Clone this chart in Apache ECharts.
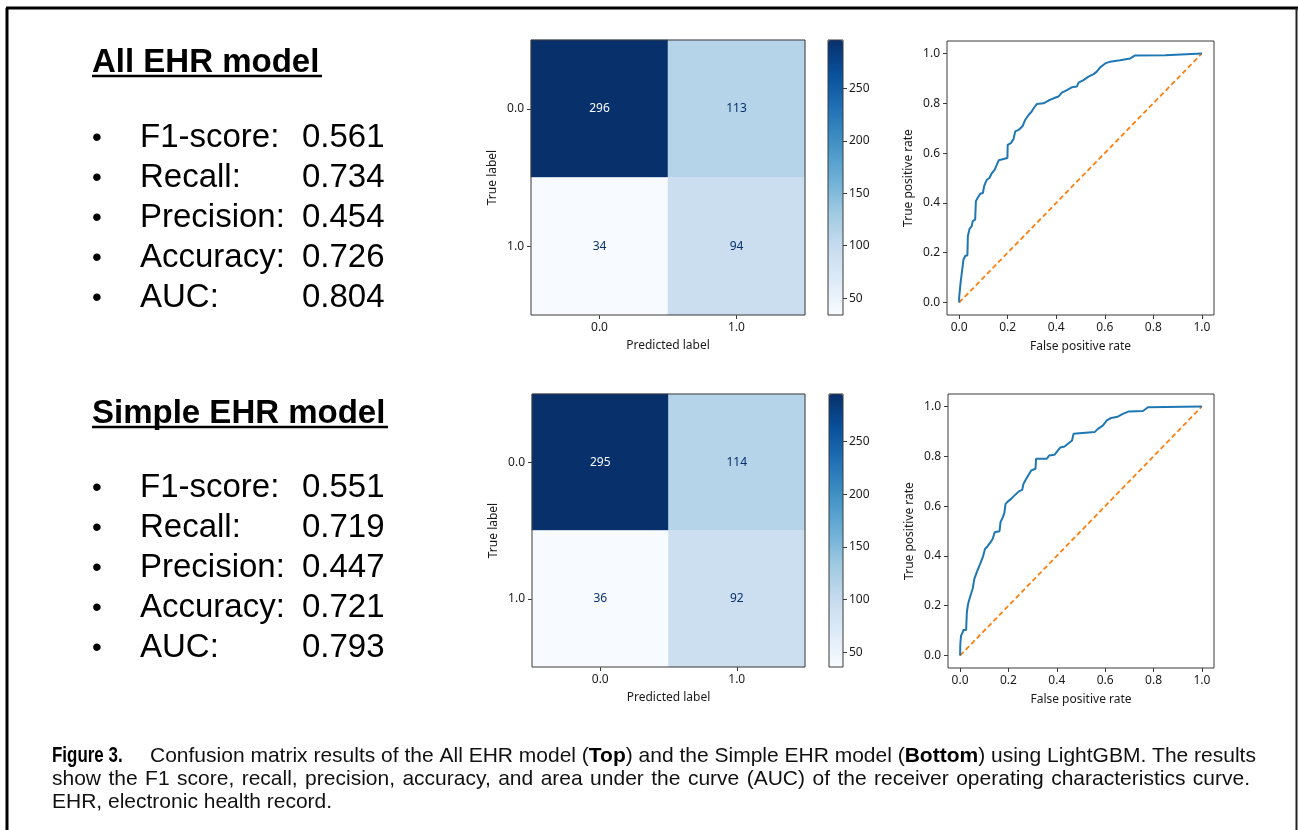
<!DOCTYPE html>
<html>
<head>
<meta charset="utf-8">
<script src="https://cdn.jsdelivr.net/npm/echarts@6/dist/echarts.min.js"></script>
<style>
  html, body { margin: 0; padding: 0; background: #fff; }
  #chart { width: 1298px; height: 830px; }
</style>
</head>
<body>
<div id="chart"></div>
<script>
// ---- data ----
const cmClasses = ['0.0', '1.0'];
const cmAll = [[296, 113], [34, 94]];
const cmSimple = [[295, 114], [36, 92]];
const colorbarTicks = [50, 100, 150, 200, 250];
const rocTicks = [0, 0.2, 0.4, 0.6, 0.8, 1.0];

const metricNames = ['F1-score:', 'Recall:', 'Precision:', 'Accuracy:', 'AUC:'];
const allScores = ['0.561', '0.734', '0.454', '0.726', '0.804'];
const simpleScores = ['0.551', '0.719', '0.447', '0.721', '0.793'];

const rocAllFpr = [0, 0, 0.006, 0.011, 0.018, 0.025, 0.034, 0.036, 0.043, 0.052, 0.056, 0.066, 0.069, 0.076, 0.087, 0.098, 0.103, 0.114, 0.125, 0.135, 0.146, 0.155, 0.163, 0.183, 0.199, 0.2, 0.213, 0.224, 0.231, 0.245, 0.262, 0.272, 0.286, 0.299, 0.309, 0.32, 0.348, 0.368, 0.389, 0.409, 0.423, 0.444, 0.464, 0.485, 0.492, 0.512, 0.533, 0.554, 0.567, 0.581, 0.602, 0.622, 0.663, 0.705, 0.725, 0.849, 0.853, 1];
const rocAllTpr = [0, 0.02, 0.08, 0.087, 0.173, 0.187, 0.19, 0.267, 0.296, 0.307, 0.327, 0.333, 0.407, 0.42, 0.437, 0.44, 0.467, 0.493, 0.5, 0.52, 0.533, 0.553, 0.571, 0.576, 0.58, 0.633, 0.64, 0.656, 0.687, 0.693, 0.709, 0.733, 0.753, 0.767, 0.783, 0.797, 0.8, 0.811, 0.82, 0.827, 0.843, 0.853, 0.864, 0.867, 0.883, 0.893, 0.907, 0.917, 0.927, 0.944, 0.96, 0.967, 0.973, 0.98, 0.992, 0.993, 1, 1];

const rocSimpleFpr = [0, 0.001, 0.004, 0.011, 0.014, 0.025, 0.028, 0.033, 0.039, 0.046, 0.052, 0.059, 0.069, 0.077, 0.083, 0.094, 0.103, 0.114, 0.126, 0.135, 0.143, 0.163, 0.167, 0.177, 0.183, 0.188, 0.197, 0.211, 0.221, 0.232, 0.243, 0.257, 0.262, 0.273, 0.284, 0.294, 0.312, 0.314, 0.359, 0.368, 0.39, 0.404, 0.414, 0.432, 0.446, 0.463, 0.469, 0.476, 0.556, 0.57, 0.59, 0.607, 0.625, 0.652, 0.673, 0.698, 0.756, 0.777, 1];
const rocSimpleTpr = [0, 0.047, 0.08, 0.094, 0.103, 0.103, 0.174, 0.207, 0.228, 0.234, 0.268, 0.308, 0.335, 0.341, 0.368, 0.395, 0.428, 0.439, 0.455, 0.469, 0.495, 0.499, 0.535, 0.556, 0.573, 0.609, 0.618, 0.629, 0.639, 0.649, 0.659, 0.665, 0.689, 0.709, 0.727, 0.743, 0.75, 0.79, 0.79, 0.803, 0.806, 0.823, 0.835, 0.839, 0.85, 0.863, 0.89, 0.897, 0.897, 0.91, 0.923, 0.944, 0.954, 0.959, 0.97, 0.98, 0.982, 0.997, 1];

const chanceLine = [0, 1];

// ---- styling ----
const blues = ['#f7fbff', '#deebf7', '#c6dbef', '#9ecae1', '#6baed6', '#4292c6', '#2171b5', '#08519c', '#08306b'];
const tickFont = 'Noto Sans';
const spine = '#3a3a3a';
const textDark = '#1a1a1a';

function cellData(m) {
  const flat = m.flat();
  const lo = Math.min(...flat), hi = Math.max(...flat);
  const thresh = (lo + hi) / 2;
  const out = [];
  m.forEach((row, r) => row.forEach((v, c) => {
    out.push({ value: [c, r, v], label: { color: v > thresh ? blues[0] : blues[8] } });
  }));
  return out;
}
function zip(xs, ys) { return xs.map((x, i) => [x, ys[i]]); }

const frames = [
  { cm: { left: 531, top: 40, width: 274, height: 275 }, cb: { left: 828, top: 40, width: 15, height: 275 }, roc: { left: 947, top: 41, width: 267, height: 274 } },
  { cm: { left: 532, top: 394, width: 273, height: 273 }, cb: { left: 829, top: 394, width: 14, height: 273 }, roc: { left: 948, top: 394, width: 266, height: 274 } }
];

const grids = [], xAxes = [], yAxes = [], series = [], visualMaps = [];
const axisLabelBase = { color: textDark, fontFamily: tickFont, fontSize: 12 };
const nameBase = { color: textDark, fontFamily: tickFont, fontSize: 12 };
const tickBase = { show: true, length: 4, lineStyle: { color: spine, width: 1 } };
const hiddenLine = { show: false, onZero: false };
const boxed = { show: true, borderColor: spine, borderWidth: 1, backgroundColor: 'transparent', z: 10 };

[cmAll, cmSimple].forEach((cm, k) => {
  const f = frames[k];
  const gBase = grids.length;
  grids.push(Object.assign({}, boxed, f.cm));   // confusion matrix
  grids.push(Object.assign({}, boxed, f.cb));   // colorbar
  grids.push(Object.assign({}, boxed, f.roc));  // ROC curve

  xAxes.push({
    gridIndex: gBase, type: 'category', data: cmClasses, position: 'bottom',
    axisLine: hiddenLine, axisTick: Object.assign({ alignWithLabel: true }, tickBase),
    axisLabel: Object.assign({ margin: 7 }, axisLabelBase),
    name: 'Predicted label', nameLocation: 'middle', nameGap: 25, nameTextStyle: nameBase
  });
  yAxes.push({
    gridIndex: gBase, type: 'category', data: cmClasses, inverse: true,
    axisLine: hiddenLine, axisTick: Object.assign({ alignWithLabel: true }, tickBase),
    axisLabel: Object.assign({ margin: 7 }, axisLabelBase),
    name: 'True label', nameLocation: 'middle', nameGap: 32, nameTextStyle: nameBase
  });

  const flat = cm.flat();
  xAxes.push({ gridIndex: gBase + 1, type: 'value', show: false, min: 0, max: 1 });
  yAxes.push({
    gridIndex: gBase + 1, type: 'value', position: 'right',
    min: Math.min(...flat), max: Math.max(...flat),
    splitLine: { show: false }, axisLine: hiddenLine,
    axisTick: Object.assign({ customValues: colorbarTicks }, tickBase),
    axisLabel: Object.assign({ customValues: colorbarTicks, margin: 6 }, axisLabelBase)
  });

  xAxes.push({
    gridIndex: gBase + 2, type: 'value', min: -0.05, max: 1.05, position: 'bottom',
    splitLine: { show: false }, axisLine: hiddenLine,
    axisTick: Object.assign({ customValues: rocTicks }, tickBase),
    axisLabel: Object.assign({ customValues: rocTicks, margin: 7, formatter: v => v.toFixed(1) }, axisLabelBase),
    name: 'False positive rate', nameLocation: 'middle', nameGap: 26, nameTextStyle: nameBase
  });
  yAxes.push({
    gridIndex: gBase + 2, type: 'value', min: -0.05, max: 1.05, position: 'left',
    splitLine: { show: false }, axisLine: hiddenLine,
    axisTick: Object.assign({ customValues: rocTicks }, tickBase),
    axisLabel: Object.assign({ customValues: rocTicks, margin: 7, formatter: v => v.toFixed(1) }, axisLabelBase),
    name: 'True positive rate', nameLocation: 'middle', nameGap: 32, nameTextStyle: nameBase
  });

  const sIdx = series.length;
  series.push({
    type: 'heatmap', xAxisIndex: gBase, yAxisIndex: gBase,
    data: cellData(cm),
    label: { show: true, fontFamily: tickFont, fontSize: 12 },
    emphasis: { disabled: true }
  });
  visualMaps.push({
    type: 'continuous', seriesIndex: sIdx,
    min: Math.min(...flat), max: Math.max(...flat),
    calculable: false, hoverLink: false, padding: 0,
    left: f.cb.left, top: f.cb.top, itemWidth: f.cb.width, itemHeight: f.cb.height,
    inRange: { color: blues }
  });
});

const rocLine = { color: '#1f77b4', width: 2 };
const chanceStyle = { color: '#ff7f0e', width: 1.8, type: [5, 3] };
series.push(
  { type: 'line', xAxisIndex: 2, yAxisIndex: 2, data: zip(rocAllFpr, rocAllTpr), showSymbol: false, lineStyle: rocLine, z: 4 },
  { type: 'line', xAxisIndex: 2, yAxisIndex: 2, data: zip(chanceLine, chanceLine), showSymbol: false, lineStyle: chanceStyle, z: 3 },
  { type: 'line', xAxisIndex: 5, yAxisIndex: 5, data: zip(rocSimpleFpr, rocSimpleTpr), showSymbol: false, lineStyle: rocLine, z: 4 },
  { type: 'line', xAxisIndex: 5, yAxisIndex: 5, data: zip(chanceLine, chanceLine), showSymbol: false, lineStyle: chanceStyle, z: 3 }
);

// ---- left-hand text panels, caption and frame ----
const textFont = 'Liberation Sans';
const graphics = [];
function metricBlock(title, titleY, scores, firstY, underlineEnd) {
  graphics.push({ type: 'text', x: 92, y: titleY, style: { text: title, fontFamily: textFont, fontSize: 33, fontWeight: 'bold', fill: '#000', verticalAlign: 'middle' } });
  graphics.push({ type: 'line', shape: { x1: 92, y1: titleY + 13, x2: underlineEnd, y2: titleY + 13 }, style: { stroke: '#000', lineWidth: 2.5 } });
  metricNames.forEach((n, i) => {
    const y = firstY + i * 40;
    graphics.push({ type: 'text', x: 92, y: y, style: { text: '•', fontFamily: textFont, fontSize: 28, fill: '#000', verticalAlign: 'middle' } });
    graphics.push({ type: 'text', x: 140, y: y, style: { text: n, fontFamily: textFont, fontSize: 33, fill: '#000', verticalAlign: 'middle' } });
    graphics.push({ type: 'text', x: 302, y: y, style: { text: scores[i], fontFamily: textFont, fontSize: 33, fill: '#000', verticalAlign: 'middle' } });
  });
}
metricBlock('All EHR model', 63, allScores, 138, 322);
metricBlock('Simple EHR model', 414, simpleScores, 488, 388);

// caption: first line mixes bold runs, second line is set justified
const capSize = 21;
const capRich = { b: { fontFamily: textFont, fontWeight: 'bold', fontSize: capSize, fill: '#000' } };
const captionFirst = 'Confusion matrix results of the All EHR model ({b|Top}) and the Simple EHR model ({b|Bottom}) using LightGBM. The results';
const captionSecond = 'show the F1 score, recall, precision, accuracy, and area under the curve (AUC) of the receiver operating characteristics curve.';
const captionLast = 'EHR, electronic health record.';
const capY = [756, 779, 802];

graphics.push({ type: 'text', x: 52, y: capY[0], scaleX: 0.77, style: { text: 'Figure 3.', fontFamily: textFont, fontWeight: 'bold', fontSize: 22, fill: '#000', verticalAlign: 'middle' } });
graphics.push({ type: 'text', x: 150, y: capY[0], style: { text: captionFirst, rich: capRich, fontFamily: textFont, fontSize: capSize, fill: '#111', verticalAlign: 'middle' } });

(function justify(line, x0, x1, y) {
  const ctx = document.createElement('canvas').getContext('2d');
  ctx.font = capSize + 'px "' + textFont + '"';
  const words = line.split(' ');
  const widths = words.map(w => ctx.measureText(w).width);
  const total = widths.reduce((a, b) => a + b, 0);
  const gap = (x1 - x0 - total) / (words.length - 1);
  let x = x0;
  words.forEach((w, i) => {
    graphics.push({ type: 'text', x: x, y: y, style: { text: w, fontFamily: textFont, fontSize: capSize, fill: '#111', verticalAlign: 'middle' } });
    x += widths[i] + gap;
  });
})(captionSecond, 52, 1250, capY[1]);

graphics.push({ type: 'text', x: 52, y: capY[2], style: { text: captionLast, fontFamily: textFont, fontSize: capSize, fill: '#111', verticalAlign: 'middle' } });

// outer frame
graphics.push({ type: 'line', shape: { x1: 6, y1: 8, x2: 1298, y2: 8 }, style: { stroke: '#000', lineWidth: 3 } });
graphics.push({ type: 'line', shape: { x1: 7, y1: 8, x2: 7, y2: 830 }, style: { stroke: '#000', lineWidth: 3 } });
graphics.push({ type: 'line', shape: { x1: 1296.5, y1: 8, x2: 1296.5, y2: 830 }, style: { stroke: '#222', lineWidth: 2 } });

const chart = echarts.init(document.getElementById('chart'), null, { renderer: 'canvas' });
chart.setOption({
  animation: false,
  backgroundColor: '#fff',
  grid: grids,
  xAxis: xAxes,
  yAxis: yAxes,
  visualMap: visualMaps,
  series: series,
  graphic: graphics
});
</script>
</body>
</html>
